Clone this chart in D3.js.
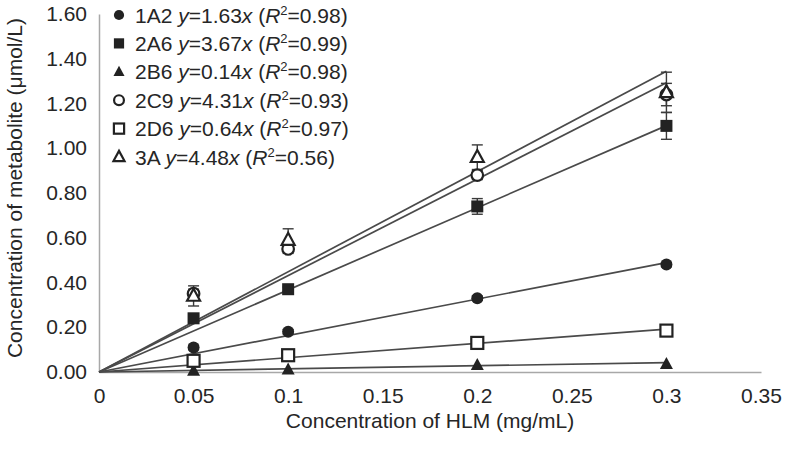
<!DOCTYPE html>
<html>
<head>
<meta charset="utf-8">
<script src="https://cdn.jsdelivr.net/npm/d3@7/dist/d3.min.js"></script>
<style>
  html, body { margin: 0; padding: 0; background: #fff; }
  text { font-family: "Liberation Sans", Arial, sans-serif; fill: #262626; }
</style>
</head>
<body>
<svg id="chart" width="787" height="452"></svg>
<script>
// ---- data ----
const xValues = [0.05, 0.1, 0.2, 0.3];
const seriesNames = ["1A2", "2A6", "2B6", "2C9", "2D6", "3A"];
const slopes = [1.63, 3.67, 0.14, 4.31, 0.64, 4.48];
const r2Labels = ["0.98", "0.99", "0.98", "0.93", "0.97", "0.56"];
const values1A2 = [0.11, 0.18, 0.33, 0.48];
const values2A6 = [0.24, 0.37, 0.74, 1.10];
const values2B6 = [0.005, 0.01, 0.03, 0.035];
const values2C9 = [0.35, 0.55, 0.88, 1.24];
const values2D6 = [0.05, 0.075, 0.13, 0.185];
const values3A = [0.34, 0.59, 0.96, 1.25];
const err1A2 = [0.01, 0.01, 0.01, 0.01];
const err2A6 = [0.01, 0.01, 0.035, 0.06];
const err2B6 = [0.0, 0.0, 0.0, 0.0];
const err2C9 = [0.02, 0.02, 0.02, 0.05];
const err2D6 = [0.01, 0.01, 0.01, 0.01];
const err3A = [0.045, 0.05, 0.055, 0.09];
const xTicks = [0, 0.05, 0.1, 0.15, 0.2, 0.25, 0.3, 0.35];
const xTickLabels = ["0", "0.05", "0.1", "0.15", "0.2", "0.25", "0.3", "0.35"];
const yTicks = [0, 0.2, 0.4, 0.6, 0.8, 1.0, 1.2, 1.4, 1.6];
const yTickLabels = ["0.00", "0.20", "0.40", "0.60", "0.80", "1.00", "1.20", "1.40", "1.60"];
const xTitle = "Concentration of HLM (mg/mL)";
const yTitle = "Concentration of metabolite (μmol/L)";

const allValues = [values1A2, values2A6, values2B6, values2C9, values2D6, values3A];
const allErrors = [err1A2, err2A6, err2B6, err2C9, err2D6, err3A];
const markerTypes = ["circleFill", "squareFill", "triFill", "circleOpen", "squareOpen", "triOpen"];

// ---- layout ----
const svg = d3.select("#chart");
const x = d3.scaleLinear().domain([0, 0.35]).range([99, 761]);
const y = d3.scaleLinear().domain([0, 1.6]).range([372, 14]);
const fontSize = 21;
const ink = "#222";
const fontFam = '"Liberation Sans", Arial, sans-serif';

// axes
const xAxis = d3.axisBottom(x).tickValues(xTicks)
  .tickFormat((d, i) => xTickLabels[i]).tickSize(0).tickPadding(16);
const gx = svg.append("g").attr("transform", `translate(0,${y(0)})`).call(xAxis);
gx.select(".domain").attr("stroke", "#a8a8a8").attr("stroke-width", 1.5);
gx.selectAll("text").style("font-size", fontSize + "px").attr("fill", "#262626")
  .style("font-family", fontFam);

const yAxis = d3.axisLeft(y).tickValues(yTicks)
  .tickFormat((d, i) => yTickLabels[i]).tickSize(0).tickPadding(12);
const gy = svg.append("g").attr("transform", `translate(${x(0)},0)`).call(yAxis);
gy.select(".domain").attr("stroke", "#a8a8a8").attr("stroke-width", 1.5);
gy.selectAll("text").style("font-size", fontSize + "px").attr("fill", "#262626")
  .style("font-family", fontFam);

// titles
svg.append("text").attr("x", 430).attr("y", 428).attr("text-anchor", "middle")
  .style("font-size", fontSize + "px").text(xTitle);
svg.append("text").attr("transform", `translate(22,${188}) rotate(-90)`)
  .attr("text-anchor", "middle").style("font-size", fontSize + "px").text(yTitle);

// regression lines
const gLines = svg.append("g");
slopes.forEach((s) => {
  gLines.append("line")
    .attr("x1", x(0)).attr("y1", y(0))
    .attr("x2", x(0.3)).attr("y2", y(s * 0.3))
    .attr("stroke", "#4a4a4a").attr("stroke-width", 1.7);
});

// marker drawing
function drawMarker(g, type, cx, cy, scale = 1) {
  const sw = 2.2;
  if (type === "circleFill") {
    g.append("circle").attr("cx", cx).attr("cy", cy).attr("r", 6 * scale).attr("fill", ink);
  } else if (type === "circleOpen") {
    g.append("circle").attr("cx", cx).attr("cy", cy).attr("r", 5.8 * scale)
      .attr("fill", "#fff").attr("stroke", ink).attr("stroke-width", sw);
  } else if (type === "squareFill") {
    const s = 12 * scale;
    g.append("rect").attr("x", cx - s / 2).attr("y", cy - s / 2).attr("width", s).attr("height", s).attr("fill", ink);
  } else if (type === "squareOpen") {
    const s = 12 * scale;
    g.append("rect").attr("x", cx - s / 2).attr("y", cy - s / 2).attr("width", s).attr("height", s)
      .attr("fill", "#fff").attr("stroke", ink).attr("stroke-width", sw);
  } else if (type === "triFill" || type === "triOpen") {
    const h = 12 * scale, w = 13 * scale;
    const pts = [[cx, cy - h * 0.6], [cx + w / 2, cy + h * 0.4], [cx - w / 2, cy + h * 0.4]];
    const p = g.append("polygon").attr("points", pts.map(p => p.join(",")).join(" "));
    if (type === "triFill") p.attr("fill", ink);
    else p.attr("fill", "#fff").attr("stroke", ink).attr("stroke-width", sw);
  }
}

// error bars and points
const gPts = svg.append("g");
allValues.forEach((vals, si) => {
  vals.forEach((v, i) => {
    const e = allErrors[si][i];
    if (e > 0) {
      const cx = x(xValues[i]);
      gPts.append("line").attr("x1", cx).attr("x2", cx)
        .attr("y1", y(v - e)).attr("y2", y(v + e)).attr("stroke", "#3a3a3a").attr("stroke-width", 1.4);
      [v - e, v + e].forEach(t => {
        gPts.append("line").attr("x1", cx - 5.5).attr("x2", cx + 5.5)
          .attr("y1", y(t)).attr("y2", y(t)).attr("stroke", "#3a3a3a").attr("stroke-width", 1.4);
      });
    }
  });
});
allValues.forEach((vals, si) => {
  vals.forEach((v, i) => {
    drawMarker(gPts, markerTypes[si], x(xValues[i]), y(v));
  });
});

// legend
const legendX = 119, legendY0 = 15, legendDy = 28.4;
const gLeg = svg.append("g");
seriesNames.forEach((name, i) => {
  const cy = legendY0 + i * legendDy;
  drawMarker(gLeg, markerTypes[i], legendX, cy, 0.85);
  const t = gLeg.append("text").attr("x", 135).attr("y", cy + 7.5)
    .style("font-size", fontSize + "px");
  t.append("tspan").text(name + " ");
  t.append("tspan").style("font-style", "italic").text("y");
  t.append("tspan").text("=" + slopes[i].toFixed(2));
  t.append("tspan").style("font-style", "italic").text("x");
  t.append("tspan").text(" (");
  t.append("tspan").style("font-style", "italic").text("R");
  t.append("tspan").style("font-size", "13px").attr("dy", -8).text("2");
  t.append("tspan").attr("dy", 8).text("=" + r2Labels[i] + ")");
});
</script>
</body>
</html>
